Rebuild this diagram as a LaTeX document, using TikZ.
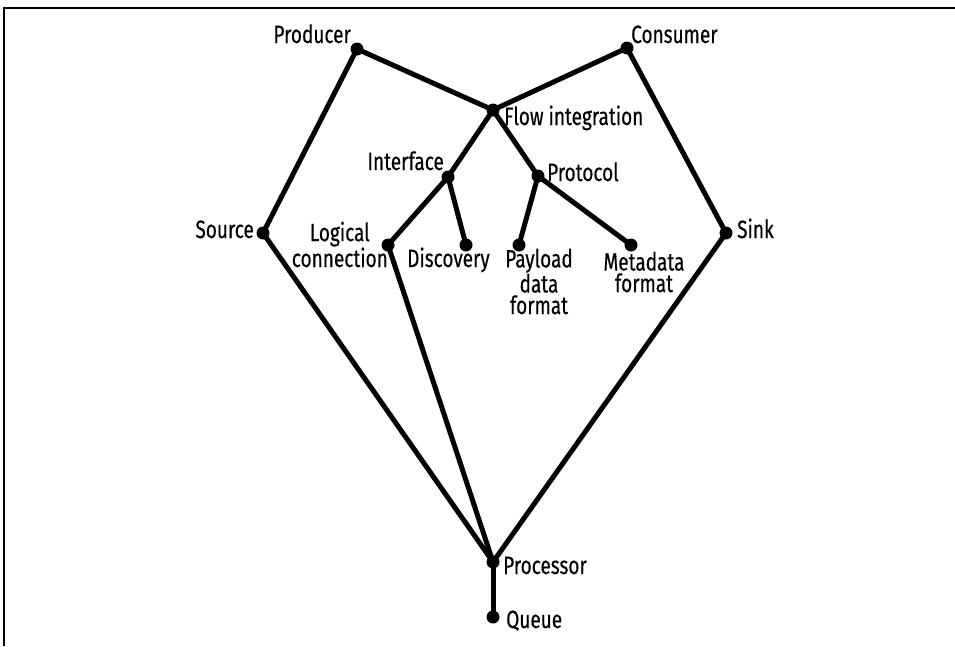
\documentclass[tikz,border=0pt]{standalone}
\usepackage{fontspec}
\setmainfont[FakeStretch=0.76,FakeBold=0.35]{Fira Sans}
\begin{document}
\begin{tikzpicture}[x=1pt,y=-1pt,
  dot/.style={circle,fill=black,inner sep=0pt,minimum size=13pt},
  link/.style={line width=5pt,line cap=round,line join=round},
  lbl/.style={font=\fontsize{25}{21.5}\selectfont,inner sep=0pt,align=center},
  frame/.style={line width=1.6pt}]
\useasboundingbox (0,0) rectangle (955,646);
\draw[frame] (4,646) -- (4,8) -- (955,8);

% points of the hierarchy
\node[dot] (prod)  at (357,49)  {};
\node[dot] (cons)  at (627,48)  {};
\node[dot] (flow)  at (493,110) {};
\node[dot] (iface) at (448,177) {};
\node[dot] (proto) at (538,176) {};
\node[dot] (src)   at (263,233) {};
\node[dot] (sink)  at (726,233) {};
\node[dot] (logic) at (388,245) {};
\node[dot] (disc)  at (466,245) {};
\node[dot] (pay)   at (519,245) {};
\node[dot] (meta)  at (631,245) {};
\node[dot] (proc)  at (493,562) {};
\node[dot] (queue) at (493,617) {};

% labels (base anchors sit on the last line of a label)
\node[lbl,anchor=base east] (prodL)  at (351,43)  {Producer};
\node[lbl,anchor=base west] (consL)  at (631,43)  {Consumer};
\node[lbl,anchor=base west] (flowL)  at (504,125) {Flow integration};
\node[lbl,anchor=base east] (ifaceL) at (444,170) {Interface};
\node[lbl,anchor=base west] (protoL) at (547,181) {Protocol};
\node[lbl,anchor=base east] (srcL)   at (254,238) {Source};
\node[lbl,anchor=base west] (sinkL)  at (737,238) {Sink};
\node[lbl,anchor=base east] (logicL) at (388,267) {Logical\\connection};
\node[lbl,anchor=base west] (discL)  at (407,267) {Discovery};
\node[lbl,anchor=base]      (payL)   at (539,314) {Payload\\data\\format};
\node[lbl,anchor=base]      (metaL)  at (644,292) {Metadata\\format};
\node[lbl,anchor=base west] (procL)  at (503,574) {Processor};
\node[lbl,anchor=base west] (queueL) at (506,628) {Queue};

% connectors
\draw[link] (prod.center) -- (flow.center);
\draw[link] (cons.center) -- (flow.center);
\draw[link] (prod.center) -- (src.center);
\draw[link] (cons.center) -- (sink.center);
\draw[link] (flow.center) -- (iface.center);
\draw[link] (flow.center) -- (proto.center);
\draw[link] (iface.center) -- (logic.center);
\draw[link] (iface.center) -- (disc.center);
\draw[link] (proto.center) -- (pay.center);
\draw[link] (proto.center) -- (meta.center);
\draw[link] (src.center) -- (proc.center);
\draw[link] (logic.center) -- (proc.center);
\draw[link] (sink.center) -- (proc.center);
\draw[link] (proc.center) -- (queue.center);
\end{tikzpicture}
\end{document}
